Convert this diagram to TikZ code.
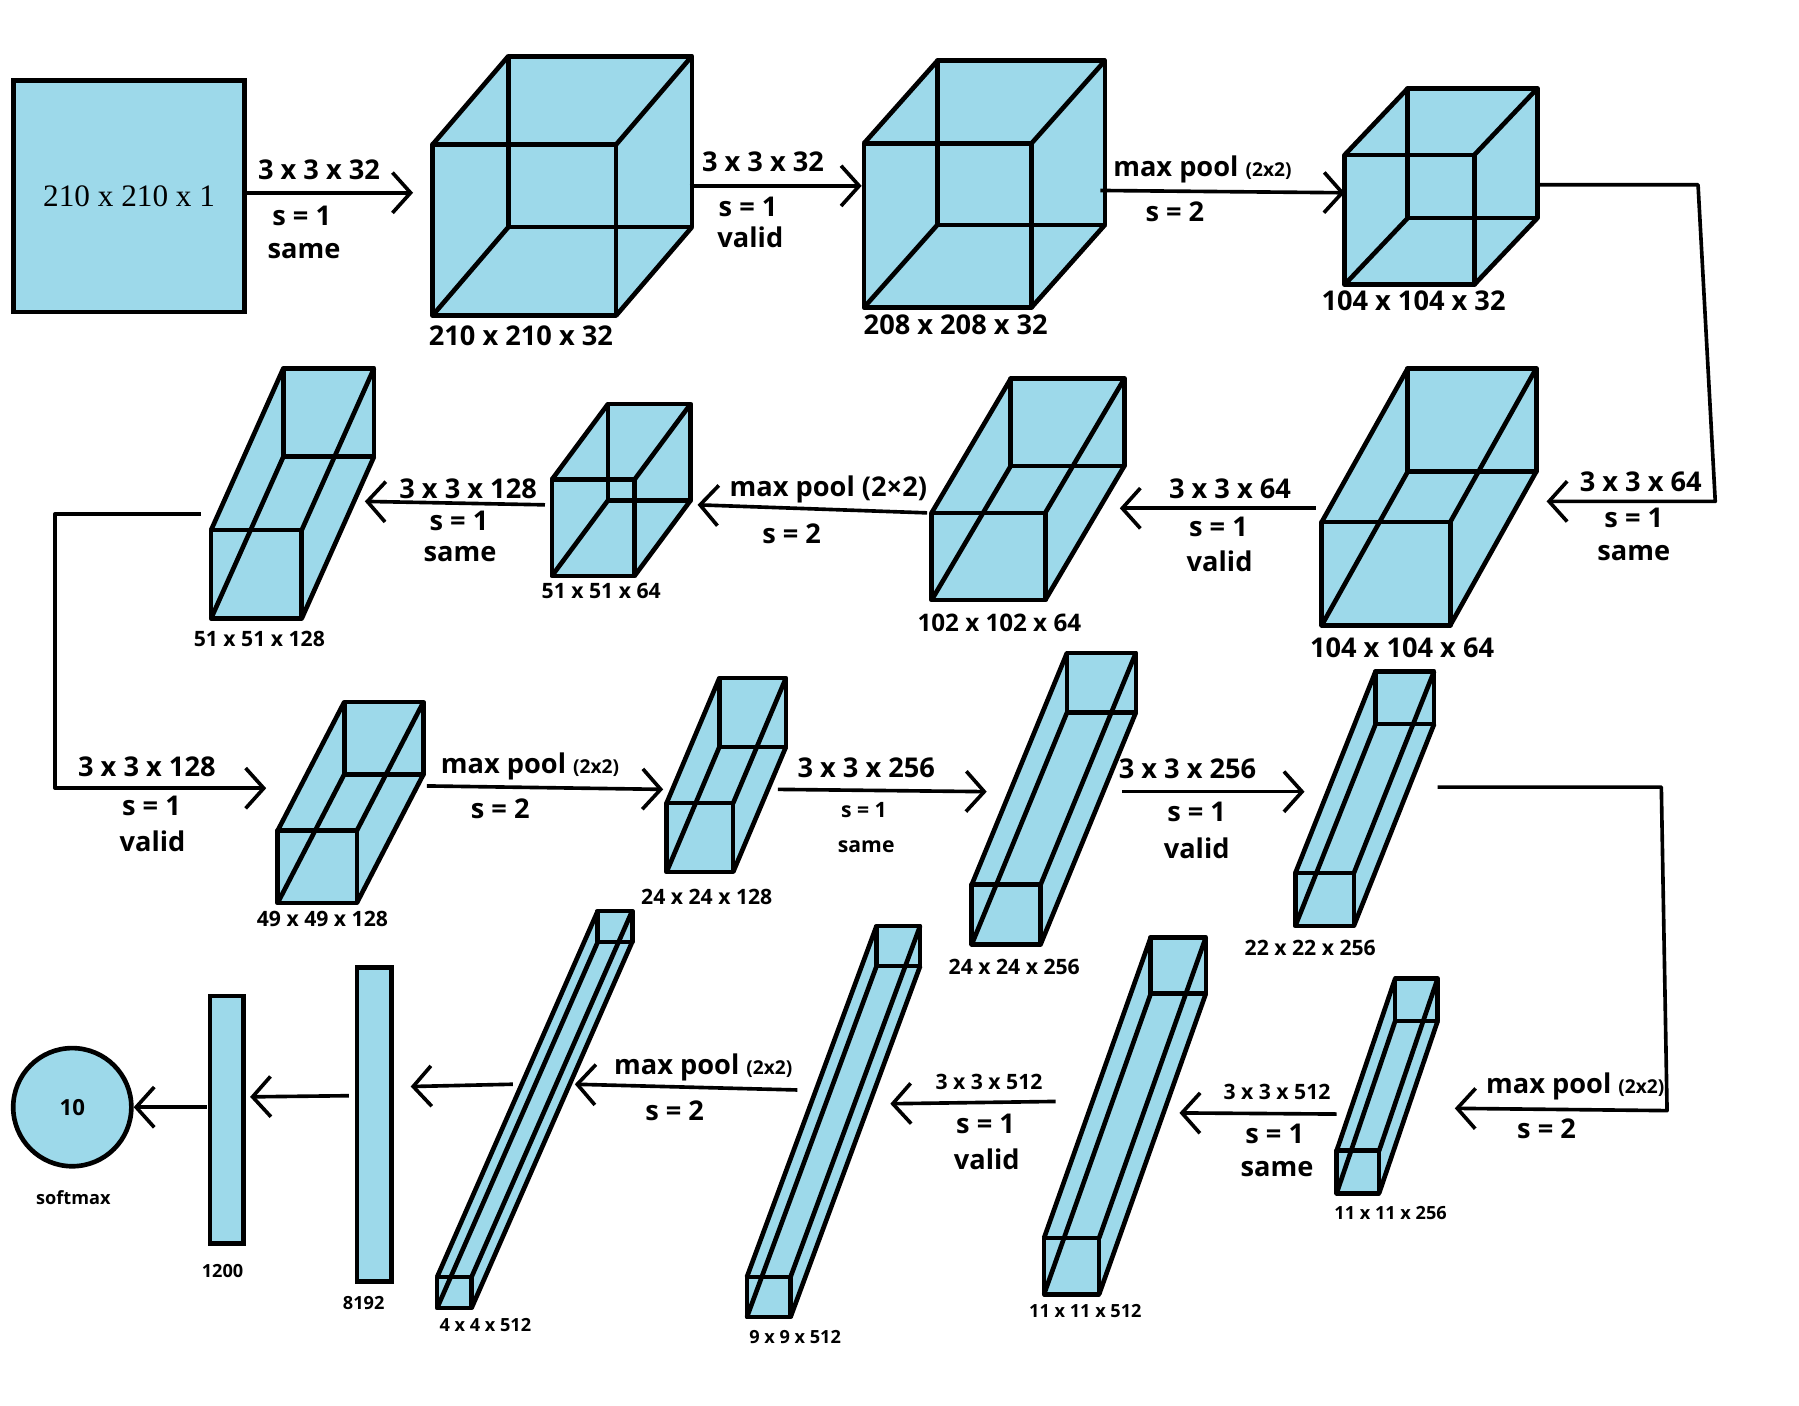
\documentclass[tikz,border=0pt]{standalone}
\usepackage{fontspec}
\setmainfont{Open Sans}
\newfontfamily\serifnum{Liberation Serif}
\usetikzlibrary{arrows.meta,positioning}
\definecolor{layerblue}{RGB}{157,217,234}
\newcommand{\poolsize}{\fontsize{9.5}{11}\selectfont}

% front top-left (x,y), width, height, depth offset (dx,dy)
\newcommand{\cuboid}[7]{%
  \fill[boxfill] (#2,#3) -- (#2+#6,#3-#7) -- (#2+#4+#6,#3-#7) -- (#2+#4+#6,#3+#5-#7)
    -- (#2+#4,#3+#5) -- (#2,#3+#5) -- cycle;
  \draw[boxline] (#2+#6,#3-#7) rectangle ++(#4,#5);
  \draw[boxline] (#2,#3) -- ++(#6,-#7) (#2+#4,#3) -- ++(#6,-#7)
    (#2,#3+#5) -- ++(#6,-#7) (#2+#4,#3+#5) -- ++(#6,-#7);
  \draw[boxline] (#2,#3) rectangle ++(#4,#5);
  \coordinate (#1) at (#2+#4/2+#6/2,#3+#5/2-#7/2);
}

\begin{document}
\begin{tikzpicture}[
    x=0.02cm, y=-0.02cm,
    boxline/.style={line width=2.3pt, line join=round},
    boxfill/.style={fill=layerblue},
    flat/.style={draw, fill=layerblue, line width=2.3pt, inner sep=0pt},
    arr/.style={line width=1.8pt, line join=round, -{Straight Barb[length=9pt,width=20pt]}},
    lbl/.style={font=\fontsize{13.5}{15}\selectfont\bfseries},
    mid/.style={font=\fontsize{12}{14}\selectfont\bfseries},
    small/.style={font=\fontsize{10.5}{12}\selectfont\bfseries},
    tiny/.style={font=\fontsize{9}{11}\selectfont\bfseries},
]
  \useasboundingbox (0,0) rectangle (1568,1225);

  % input and dense layers
  \node[flat, minimum width=4.02cm, minimum height=4.04cm, font=\serifnum\fontsize{15.5}{17}\selectfont] (in) at (112.5,171) {210 x 210 x 1};
  \node[flat, minimum width=0.6cm, minimum height=5.48cm] (fc2) at (326,980) {};
  \node[flat, minimum width=0.58cm, minimum height=4.32cm] (fc1) at (197.5,976) {};
  \node[flat, circle, minimum size=2.06cm, font=\fontsize{11}{13}\selectfont\bfseries] (out) at (63,965) {10};

  % feature maps
  \cuboid{c1}{377}{126}{160}{149}{66}{77}
  \cuboid{c2}{753}{125}{146}{143}{64}{72}
  \cuboid{c3}{1172}{135}{113}{113}{55}{58}
  \cuboid{c4}{1152}{455}{112}{90}{75}{134}
  \cuboid{c5}{812}{447}{99}{76}{69}{117}
  \cuboid{c6}{481}{418}{72}{84}{49}{66}
  \cuboid{c7}{184}{462}{79}{77}{63}{141}
  \cuboid{c8}{242}{724}{69}{63}{58}{112}
  \cuboid{c9}{581}{700}{58}{60}{46}{109}
  \cuboid{c10}{847}{771}{60}{52}{83}{202}
  \cuboid{c11}{1129}{761}{51}{46}{70}{176}
  \cuboid{c12}{1165}{1003}{37}{37}{51}{150}
  \cuboid{c13}{910}{1079}{48}{49}{93}{262}
  \cuboid{c14}{651}{1113}{38}{35}{113}{306}
  \cuboid{c15}{381}{1113}{30}{27}{140}{319}

  % sizes
  \node[lbl] (s1) at (454,293) {210 x 210 x 32};
  \node[lbl] (s2) at (833,283) {208 x 208 x 32};
  \node[lbl] (s3) at (1232,262) {104 x 104 x 32};
  \node[lbl] (s4) at (1222,565) {104 x 104 x 64};
  \node[mid] (s5) at (871,543) {102 x 102 x 64};
  \node[small] (s6) at (524,515) {51 x 51 x 64};
  \node[small] (s7) at (226,557) {51 x 51 x 128};
  \node[small] (s8) at (281,801) {49 x 49 x 128};
  \node[small] (s9) at (616,782) {24 x 24 x 128};
  \node[small] (s10) at (884,843) {24 x 24 x 256};
  \node[small] (s11) at (1142,826) {22 x 22 x 256};
  \node[tiny] (s12) at (1212,1057) {11 x 11 x 256};
  \node[tiny] (s13) at (946,1143) {11 x 11 x 512};
  \node[tiny] (s14) at (693,1165) {9 x 9 x 512};
  \node[tiny] (s15) at (423,1155) {4 x 4 x 512};
  \node[tiny] (s16) at (317,1136) {8192};
  \node[tiny] (s17) at (194,1108) {1200};
  \node[tiny] (s18) at (64,1044) {softmax};

  % connector ends
  \coordinate (a1s) at (215,168);   \coordinate (a1e) at (360,168);
  \coordinate (a2s) at (601,162);   \coordinate (a2e) at (751,162);
  \coordinate (a3s) at (959,166);   \coordinate (a3e) at (1172,168);
  \coordinate (a4s) at (1342,161);  \coordinate (a4a) at (1480,161);
  \coordinate (a4b) at (1495,437);  \coordinate (a4e) at (1348,437);
  \coordinate (a5s) at (1147,443);  \coordinate (a5e) at (976,443);
  \coordinate (a6s) at (808,447);   \coordinate (a6e) at (608,440);
  \coordinate (a7s) at (475,440);   \coordinate (a7e) at (318,437);
  \coordinate (a8s) at (175,448);   \coordinate (a8a) at (48,448);
  \coordinate (a8b) at (48,687);    \coordinate (a8e) at (232,687);
  \coordinate (a9s) at (372,685);   \coordinate (a9e) at (578,688);
  \coordinate (a10s) at (678,688);  \coordinate (a10e) at (860,690);
  \coordinate (a11s) at (978,690);  \coordinate (a11e) at (1137,690);
  \coordinate (a12s) at (1253,686); \coordinate (a12a) at (1448,686);
  \coordinate (a12b) at (1453,968); \coordinate (a12e) at (1268,966);
  \coordinate (a13s) at (1165,971); \coordinate (a13e) at (1028,970);
  \coordinate (a14s) at (920,960);  \coordinate (a14e) at (776,962);
  \coordinate (a15s) at (695,950);  \coordinate (a15e) at (501,945);
  \coordinate (a16s) at (447,945);  \coordinate (a16e) at (358,947);
  \coordinate (a17s) at (304,955);  \coordinate (a17e) at (218,956);
  \coordinate (a18s) at (180,965);

  \draw[arr] (a1s) -- (a1e);
  \draw[arr] (a2s) -- (a2e);
  \draw[arr] (a3s) -- (a3e);
  \draw[arr] (a4s) -- (a4a) -- (a4b) -- (a4e);
  \draw[arr] (a5s) -- (a5e);
  \draw[arr] (a6s) -- (a6e);
  \draw[arr] (a7s) -- (a7e);
  \draw[arr] (a8s) -- (a8a) -- (a8b) -- (a8e);
  \draw[arr] (a9s) -- (a9e);
  \draw[arr] (a10s) -- (a10e);
  \draw[arr] (a11s) -- (a11e);
  \draw[arr] (a12s) -- (a12a) -- (a12b) -- (a12e);
  \draw[arr] (a13s) -- (a13e);
  \draw[arr] (a14s) -- (a14e);
  \draw[arr] (a15s) -- (a15e);
  \draw[arr] (a16s) -- (a16e);
  \draw[arr] (a17s) -- (a17e);
  \draw[arr] (a18s) -- (out.east);

  % operations
  \node[lbl] (o1a) at (278,148) {3 x 3 x 32};
  \node[lbl] (o1b) at (263,188) {s = 1};
  \node[lbl] (o1c) at (265,219) {same};
  \node[lbl] (o2a) at (665,141) {3 x 3 x 32};
  \node[lbl] (o2b) at (652,180) {s = 1};
  \node[lbl] (o2c) at (654,207) {valid};
  \node[lbl] (o3a) at (1048,148) {max pool {\poolsize (2x2)}};
  \node[lbl] (o3b) at (1024,185) {s = 2};
  \node[lbl] (o4a) at (1430,420) {3 x 3 x 64};
  \node[lbl] (o4b) at (1424,451) {s = 1};
  \node[lbl] (o4c) at (1424,482) {same};
  \node[lbl] (o5a) at (1072,426) {3 x 3 x 64};
  \node[lbl] (o5b) at (1062,459) {s = 1};
  \node[lbl] (o5c) at (1063,489) {valid};
  \node[lbl] (o6a) at (722,427) {max pool (2×2)};
  \node[lbl] (o6b) at (690,465) {s = 2};
  \node[lbl] (o7a) at (408,426) {3 x 3 x 128};
  \node[lbl] (o7b) at (400,454) {s = 1};
  \node[lbl] (o7c) at (401,483) {same};
  \node[lbl] (o8a) at (128,668) {3 x 3 x 128};
  \node[lbl] (o8b) at (132,702) {s = 1};
  \node[lbl] (o8c) at (133,733) {valid};
  \node[lbl] (o9a) at (462,668) {max pool {\poolsize (2x2)}};
  \node[lbl] (o9b) at (436,705) {s = 2};
  \node[lbl] (o10a) at (755,669) {3 x 3 x 256};
  \node[small] (o10b) at (753,706) {s = 1};
  \node[small] (o10c) at (755,738) {same};
  \node[lbl] (o11a) at (1035,670) {3 x 3 x 256};
  \node[lbl] (o11b) at (1043,708) {s = 1};
  \node[lbl] (o11c) at (1043,739) {valid};
  \node[lbl] (o12a) at (1373,947) {max pool {\poolsize (2x2)}};
  \node[lbl] (o12b) at (1348,984) {s = 2};
  \node[small] (o13a) at (1113,952) {3 x 3 x 512};
  \node[lbl] (o13b) at (1111,988) {s = 1};
  \node[lbl] (o13c) at (1113,1019) {same};
  \node[small] (o14a) at (862,943) {3 x 3 x 512};
  \node[lbl] (o14b) at (859,980) {s = 1};
  \node[lbl] (o14c) at (860,1010) {valid};
  \node[lbl] (o15a) at (613,930) {max pool {\poolsize (2x2)}};
  \node[lbl] (o15b) at (588,968) {s = 2};
\end{tikzpicture}
\end{document}
